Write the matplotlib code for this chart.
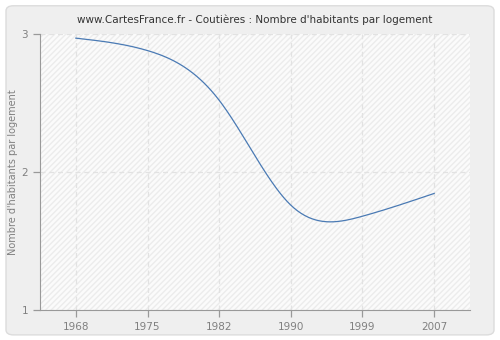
import numpy as np
import matplotlib.pyplot as plt
from matplotlib.patches import FancyBboxPatch, Rectangle

years = ['1968', '1975', '1982', '1990', '1999', '2007']
habitants = [2.97, 2.88, 2.52, 1.76, 1.68, 1.845]


def natural_spline(x, y, n=300):
    # natural cubic spline through the points, for a smooth line
    x = np.asarray(x, float)
    y = np.asarray(y, float)
    k = len(x)
    h = np.diff(x)
    A = np.zeros((k, k))
    b = np.zeros(k)
    A[0, 0] = A[-1, -1] = 1
    for i in range(1, k - 1):
        A[i, i - 1] = h[i - 1]
        A[i, i] = 2 * (h[i - 1] + h[i])
        A[i, i + 1] = h[i]
        b[i] = 3 * ((y[i + 1] - y[i]) / h[i] - (y[i] - y[i - 1]) / h[i - 1])
    c = np.linalg.solve(A, b)
    xs = np.linspace(x[0], x[-1], n)
    idx = np.clip(np.searchsorted(x, xs) - 1, 0, k - 2)
    dx = xs - x[idx]
    bb = (y[idx + 1] - y[idx]) / h[idx] - h[idx] * (2 * c[idx] + c[idx + 1]) / 3
    dd = (c[idx + 1] - c[idx]) / (3 * h[idx])
    ys = y[idx] + bb * dx + c[idx] * dx ** 2 + dd * dx ** 3
    return xs, ys


pos = np.arange(len(years))
xs, ys = natural_spline(pos, habitants)

fig = plt.figure(figsize=(5, 3.4), dpi=100, facecolor='white')
fig.patches.append(FancyBboxPatch((0.012, 0.015), 0.976, 0.968,
                                  boxstyle='round,pad=0,rounding_size=0.015',
                                  transform=fig.transFigure, facecolor='#efefef',
                                  edgecolor='#dcdcdc', linewidth=1, zorder=-10))

ax = fig.add_axes([0.08, 0.088, 0.86, 0.812])
ax.set_facecolor('#fbfbfb')
ax.add_patch(Rectangle((0, 0), 1, 1, transform=ax.transAxes, facecolor='none',
                       edgecolor='#ececec', hatch='//////', linewidth=0, zorder=0))

ax.plot(xs, ys, color='#4a7ab4', linewidth=0.9, zorder=3)

ax.set_xlim(-0.5, 5.5)
ax.set_ylim(1, 3)
ax.set_xticks(pos)
ax.set_xticklabels(years)
ax.set_yticks([1, 2, 3])
ax.grid(True, color='#e2e2e2', linestyle=(0, (4, 3)), linewidth=0.9)
ax.set_axisbelow(True)

for s in ['top', 'right']:
    ax.spines[s].set_visible(False)
for s in ['left', 'bottom']:
    ax.spines[s].set_color('#999999')
ax.tick_params(colors='#999999', labelcolor='#808080', labelsize=7.5, length=5, width=0.9)
ax.set_ylabel("Nombre d'habitants par logement", fontsize=7, color='#808080')
ax.yaxis.set_label_coords(-0.05, 0.5)
ax.set_title("www.CartesFrance.fr - Coutières : Nombre d'habitants par logement",
             fontsize=7.5, color='#333333', pad=8)

fig.savefig('out.png', dpi=100, facecolor=fig.get_facecolor())
